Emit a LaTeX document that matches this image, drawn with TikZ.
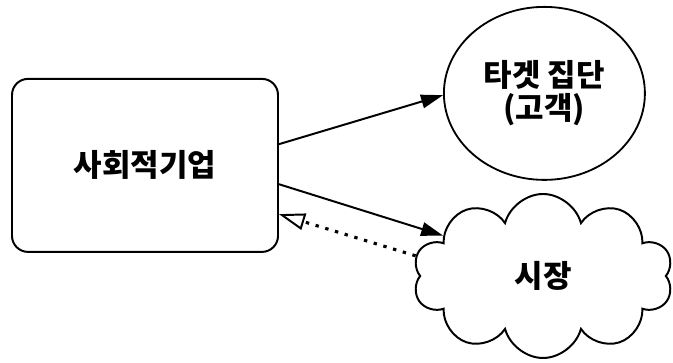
\documentclass[tikz,border=0pt]{standalone}
\usepackage{fontspec}
\setmainfont{Noto Sans CJK KR}
\usetikzlibrary{shapes.geometric,shapes.symbols,arrows.meta}

\tikzset{
  label font/.style={font=\fontsize{22}{23.5}\selectfont\bfseries},
  enterprise/.style={draw, line width=1.4pt, rounded corners=0.4cm,
    minimum width=6.65cm, minimum height=4.325cm, label font},
  group/.style={draw, ellipse, line width=1.3pt, minimum width=5.025cm,
    minimum height=4.325cm, align=center, label font},
  market/.style={draw, cloud, cloud puffs=10, cloud ignores aspect,
    line width=1.4pt, minimum width=6.5cm, minimum height=4.1cm, label font},
  link/.style={line width=1.4pt, -{Triangle[length=0.55cm,width=0.34cm]}},
  back/.style={line width=2.2pt, dash pattern=on 2.4pt off 4.8pt,
    -{Triangle[open,length=0.65cm,width=0.42cm,line width=1.4pt]}}
}

\begin{document}
\begin{tikzpicture}
  \useasboundingbox (0,0) rectangle (16.825,9.075);

  % Social enterprise
  \node[enterprise] (soc) at (3.625,4.94) {사회적기업};

  % Target group
  \node[group] (tgt) at (13.61,6.74) {타겟 집단\\(고객)};

  % Market
  \node[market] (mkt) at (13.575,2.175) {시장};

  % Links
  \draw[link] (soc.9.6) -- (tgt.181);
  \draw[link] (soc.-8.8) -- (mkt.158);
  \draw[back] (mkt.171) -- (soc.-20.4);

\end{tikzpicture}
\end{document}
